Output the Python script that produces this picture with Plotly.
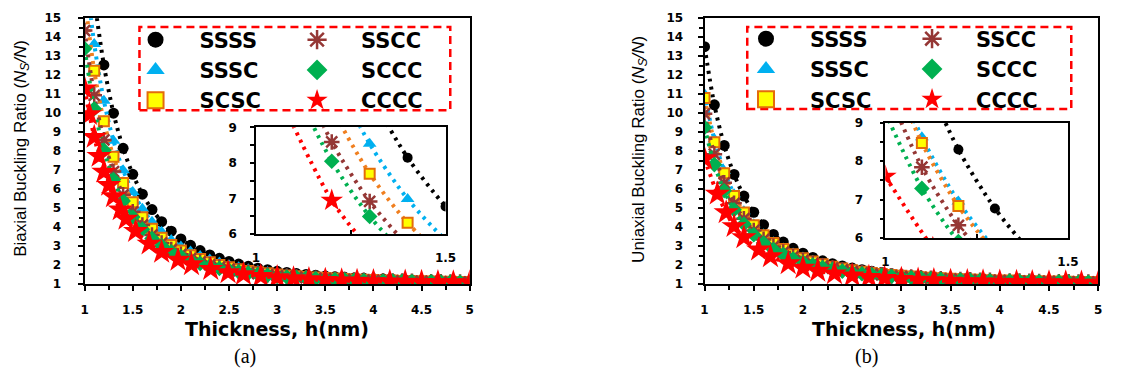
import plotly.graph_objects as go

W, H = 1124, 376

# ---------------- data ----------------
H_GRID = [1.0, 1.1, 1.2, 1.3, 1.4, 1.5, 1.6, 1.7, 1.8, 1.9, 2.0, 2.1, 2.2, 2.3, 2.4, 2.5, 2.6, 2.7, 2.8, 2.9,
          3.0, 3.1, 3.2, 3.3, 3.4, 3.5, 3.6, 3.7, 3.8, 3.9, 4.0, 4.1, 4.2, 4.3, 4.4, 4.5, 4.6, 4.7, 4.8, 4.9, 5.0]

# (a) biaxial
A_SSSS = [21.3, 16.11, 12.54, 10.0, 8.15, 6.78, 5.73, 4.92, 4.28, 3.78, 3.37, 3.04, 2.76, 2.53, 2.35, 2.19, 2.05,
          1.93, 1.83, 1.75, 1.67, 1.61, 1.55, 1.50, 1.46, 1.42, 1.38, 1.35, 1.32, 1.30, 1.28, 1.26, 1.24, 1.22,
          1.21, 1.19, 1.18, 1.17, 1.16, 1.15, 1.14]
A_SSSC = [18.0, 13.65, 10.66, 8.54, 6.99, 5.84, 4.96, 4.28, 3.75, 3.32, 2.98, 2.71, 2.48, 2.29, 2.13, 1.99, 1.88,
          1.78, 1.70, 1.63, 1.56, 1.51, 1.46, 1.42, 1.38, 1.35, 1.32, 1.29, 1.27, 1.25, 1.23, 1.21, 1.20, 1.19,
          1.17, 1.16, 1.15, 1.14, 1.13, 1.12, 1.12]
A_SCSC = [16.1, 12.24, 9.58, 7.70, 6.32, 5.30, 4.52, 3.91, 3.44, 3.06, 2.76, 2.51, 2.31, 2.14, 2.00, 1.88, 1.78,
          1.69, 1.62, 1.56, 1.50, 1.45, 1.41, 1.37, 1.34, 1.31, 1.29, 1.26, 1.24, 1.22, 1.21, 1.19, 1.18, 1.16,
          1.15, 1.14, 1.13, 1.12, 1.12, 1.11, 1.10]
A_SSCC = [14.35, 10.94, 8.59, 6.92, 5.70, 4.80, 4.11, 3.58, 3.16, 2.82, 2.56, 2.34, 2.16, 2.01, 1.89, 1.78, 1.69,
          1.61, 1.55, 1.49, 1.44, 1.40, 1.36, 1.33, 1.30, 1.28, 1.25, 1.23, 1.21, 1.20, 1.18, 1.17, 1.16, 1.15,
          1.14, 1.13, 1.12, 1.11, 1.10, 1.10, 1.09]
A_SCCC = [13.4, 10.23, 8.05, 6.50, 5.37, 4.53, 3.89, 3.39, 3.01, 2.70, 2.45, 2.24, 2.08, 1.94, 1.82, 1.72, 1.64,
          1.57, 1.51, 1.46, 1.41, 1.37, 1.34, 1.31, 1.28, 1.26, 1.23, 1.22, 1.20, 1.18, 1.17, 1.16, 1.15, 1.14,
          1.13, 1.12, 1.11, 1.10, 1.10, 1.09, 1.08]
A_CCCC_H = [1.0, 1.05, 1.1, 1.15, 1.2, 1.25, 1.3, 1.37, 1.43, 1.53, 1.67, 1.8, 1.97, 2.11, 2.31, 2.49, 2.65, 2.83,
            3.0, 3.17, 3.33, 3.5, 3.67, 3.83, 4.0, 4.17, 4.33, 4.5, 4.67, 4.83, 5.0]
A_CCCC = [11.3, 9.94, 8.74, 7.74, 6.91, 6.21, 5.61, 4.92, 4.43, 3.78, 3.12, 2.68, 2.27, 2.03, 1.78, 1.61, 1.51,
          1.41, 1.35, 1.29, 1.25, 1.21, 1.18, 1.16, 1.14, 1.12, 1.11, 1.10, 1.09, 1.08, 1.07]
# (a) inset, CCCC as sampled in the zoomed inset
INSET_A_CCCC_H = [1.0, 1.2, 1.3, 1.4, 1.5]
INSET_A_CCCC = [11.3, 6.95, 5.61, 4.65, 3.96]

# (b) uniaxial
B_SSSS = [13.5, 10.44, 8.30, 6.77, 5.63, 4.78, 4.12, 3.61, 3.21, 2.88, 2.62, 2.40, 2.22, 2.07, 1.95, 1.84, 1.75,
          1.67, 1.60, 1.54, 1.49, 1.44, 1.40, 1.37, 1.34, 1.31, 1.29, 1.26, 1.24, 1.23, 1.21, 1.20, 1.18, 1.17,
          1.16, 1.15, 1.14, 1.13, 1.12, 1.12, 1.11]
B_SSSC = [11.0, 8.62, 6.95, 5.73, 4.83, 4.15, 3.62, 3.20, 2.87, 2.61, 2.39, 2.21, 2.06, 1.93, 1.83, 1.73, 1.66,
          1.59, 1.53, 1.48, 1.44, 1.40, 1.36, 1.33, 1.31, 1.28, 1.26, 1.24, 1.22, 1.21, 1.19, 1.18, 1.17, 1.16,
          1.15, 1.14, 1.13, 1.12, 1.11, 1.11, 1.10]
B_SCSC = [10.8, 8.47, 6.83, 5.64, 4.76, 4.09, 3.57, 3.16, 2.84, 2.57, 2.36, 2.18, 2.04, 1.91, 1.81, 1.72, 1.64,
          1.58, 1.52, 1.47, 1.43, 1.39, 1.36, 1.33, 1.30, 1.28, 1.25, 1.24, 1.22, 1.20, 1.19, 1.18, 1.16, 1.15,
          1.14, 1.13, 1.13, 1.12, 1.11, 1.11, 1.10]
B_SSCC = [9.97, 7.84, 6.33, 5.25, 4.44, 3.82, 3.35, 2.98, 2.68, 2.44, 2.24, 2.08, 1.95, 1.84, 1.74, 1.66, 1.59,
          1.53, 1.48, 1.43, 1.39, 1.36, 1.33, 1.30, 1.27, 1.25, 1.23, 1.22, 1.20, 1.19, 1.17, 1.16, 1.15, 1.14,
          1.13, 1.12, 1.12, 1.11, 1.10, 1.10, 1.09]
B_SCCC = [9.25, 7.29, 5.91, 4.91, 4.16, 3.60, 3.16, 2.82, 2.55, 2.32, 2.14, 2.00, 1.87, 1.77, 1.68, 1.61, 1.54,
          1.49, 1.44, 1.40, 1.36, 1.33, 1.30, 1.27, 1.25, 1.23, 1.21, 1.20, 1.18, 1.17, 1.16, 1.15, 1.14, 1.13,
          1.12, 1.11, 1.11, 1.10, 1.09, 1.09, 1.08]
B_CCCC_H = [1.0, 1.13, 1.22, 1.3, 1.4, 1.55, 1.67, 1.85, 2.0, 2.15, 2.32, 2.5, 2.67, 2.83, 3.0, 3.17, 3.33, 3.5,
            3.67, 3.83, 4.0, 4.17, 4.33, 4.5, 4.67, 4.83, 5.0]
B_CCCC = [7.6, 5.75, 4.77, 4.04, 3.45, 2.81, 2.45, 2.08, 1.85, 1.69, 1.55, 1.44, 1.36, 1.31, 1.26, 1.22, 1.19,
          1.16, 1.14, 1.13, 1.11, 1.10, 1.09, 1.08, 1.07, 1.06, 1.06]

NAMES = ["SSSS", "SSSC", "SCSC", "SSCC", "SCCC", "CCCC"]
PANEL_A = {"SSSS": (H_GRID, A_SSSS), "SSSC": (H_GRID, A_SSSC), "SCSC": (H_GRID, A_SCSC),
           "SSCC": (H_GRID, A_SSCC), "SCCC": (H_GRID, A_SCCC), "CCCC": (A_CCCC_H, A_CCCC)}
INSET_A = dict(PANEL_A, CCCC=(INSET_A_CCCC_H, INSET_A_CCCC))
PANEL_B = {"SSSS": (H_GRID, B_SSSS), "SSSC": (H_GRID, B_SSSC), "SCSC": (H_GRID, B_SCSC),
           "SSCC": (H_GRID, B_SSCC), "SCCC": (H_GRID, B_SCCC), "CCCC": (B_CCCC_H, B_CCCC)}

# ---------------- styles ----------------
STY = {
    "SSSS": dict(symbol="circle", fill="#000000", edge="#000000", ew=0, dot="#000000", size=11, isize=10),
    "SSSC": dict(symbol="triangle-up", fill="#00B0F0", edge="#00B0F0", ew=0, dot="#00B0F0", size=12, isize=12),
    "SCSC": dict(symbol="square", fill="#FFFF00", edge="#E46C0A", ew=2, dot="#F07F1F", size=10, isize=10),
    "SSCC": dict(symbol="asterisk-open", fill="#953735", edge="#953735", ew=2.5, dot="#953735", size=13, isize=13),
    "SCCC": dict(symbol="diamond", fill="#00B050", edge="#00B050", ew=0, dot="#00B050", size=12, isize=12),
    "CCCC": dict(symbol="star", fill="#FF0000", edge="#FF0000", ew=0, dot="#FF0000", size=19, isize=17),
}

def px(x):
    return x / W

def py(y):
    return 1 - y / H

fig = go.Figure()

def add_series(panel, xa, ya, inset=False):
    for nm in NAMES:
        s = STY[nm]
        xs, ys = panel[nm]
        fig.add_trace(go.Scatter(
            x=xs, y=ys, mode="lines+markers", name=nm, showlegend=False,
            line=dict(color=s["dot"], width=4, dash="3px,5px", shape="spline", smoothing=0.8),
            marker=dict(symbol=s["symbol"], color=s["fill"], size=s["isize"] if inset else s["size"],
                        line=dict(color=s["edge"], width=s["ew"])),
            xaxis=xa, yaxis=ya, hoverinfo="skip"))

add_series(PANEL_A, "x", "y")
add_series(PANEL_B, "x2", "y2")
add_series(INSET_A, "x3", "y3", inset=True)
add_series(PANEL_B, "x4", "y4", inset=True)

# legend-only entries (no data)
for (l1, l2), xa, ya in ((("legend", "legend2"), "x", "y"), (("legend3", "legend4"), "x2", "y2")):
    for i, nm in enumerate(NAMES):
        s = STY[nm]
        fig.add_trace(go.Scatter(
            x=[None], y=[None], mode="markers", name=nm, showlegend=True,
            legend=l1 if i < 3 else l2,
            marker=dict(symbol=s["symbol"], color=s["fill"], size=16,
                        line=dict(color=s["edge"], width=s["ew"])),
            xaxis=xa, yaxis=ya))

TICKFONT = dict(family="DejaVu Sans", size=12, color="black", weight="bold")

def main_x(domain, anchor):
    return dict(domain=domain, anchor=anchor, range=[1, 5], tick0=1, dtick=0.5,
                showline=True, linecolor="black", linewidth=2, mirror=True,
                showgrid=False, zeroline=False, ticks="outside", ticklen=5, tickwidth=2,
                tickcolor="black", tickfont=TICKFONT, ticklabelstandoff=9,
                minor=dict(dtick=0.25, ticks="outside", ticklen=4, tickwidth=2, tickcolor="black"))

def main_y(domain, anchor, standoff):
    return dict(domain=domain, anchor=anchor, range=[1, 15], tick0=1, dtick=1,
                showline=True, linecolor="black", linewidth=2, mirror=True,
                showgrid=False, zeroline=False, ticks="outside", ticklen=5, tickwidth=2,
                tickcolor="black", tickfont=TICKFONT, ticklabelstandoff=standoff,
                minor=dict(dtick=0.5, ticks="outside", ticklen=4, tickwidth=2, tickcolor="black"))

def inset_x(domain, anchor):
    return dict(domain=domain, anchor=anchor, range=[1, 1.5], tick0=1, dtick=0.5,
                showline=True, linecolor="black", linewidth=1.5, mirror=True,
                showgrid=False, zeroline=False, ticks="inside", ticklen=4, tickwidth=1.5,
                tickcolor="black", tickfont=TICKFONT, ticklabelstandoff=12,
                minor=dict(dtick=0.25, ticks="inside", ticklen=4, tickwidth=1.5, tickcolor="black"))

def inset_y(domain, anchor, standoff):
    return dict(domain=domain, anchor=anchor, range=[6, 9], tick0=6, dtick=1,
                showline=True, linecolor="black", linewidth=1.5, mirror=True,
                showgrid=False, zeroline=False, ticks="outside", ticklen=4, tickwidth=1.5,
                tickcolor="black", tickfont=TICKFONT, ticklabelstandoff=standoff,
                minor=dict(dtick=0.5, ticks="outside", ticklen=4, tickwidth=1.5, tickcolor="black"))

YDOM = [py(287.7), py(11.7)]

LEGFONT = dict(family="DejaVu Sans", size=21, color="black", weight="bold")

def leg(x, y):
    return dict(x=px(x), y=py(y), xanchor="left", yanchor="top", bgcolor="rgba(0,0,0,0)",
                borderwidth=0, itemwidth=78, font=LEGFONT, itemsizing="trace",
                tracegroupgap=0, itemclick=False, itemdoubleclick=False)

ANN_TITLE_Y = dict(family="Liberation Sans", size=17, color="black")
ANN_TITLE_X = dict(family="DejaVu Sans", size=19, color="black", weight="bold")
CAPFONT = dict(family="Liberation Serif", size=20, color="black")

annotations = [
    dict(text="Biaxial Buckling Ratio (<i>N<sub>S</sub>/N</i>)", x=px(17.5), y=py(147), textangle=-90,
         font=ANN_TITLE_Y),
    dict(text="Uniaxial Buckling Ratio (<i>N<sub>S</sub>/N</i>)", x=px(645), y=py(148), textangle=-90,
         font=ANN_TITLE_Y),
    dict(text="Thickness, h(nm)", x=px(277), y=py(334), font=ANN_TITLE_X),
    dict(text="Thickness, h(nm)", x=px(912), y=py(334), font=ANN_TITLE_X),
    dict(text="(a)", x=px(244), y=py(363), font=CAPFONT),
    dict(text="(b)", x=px(874), y=py(363), font=CAPFONT),
]
for a in annotations:
    a.update(xref="paper", yref="paper", showarrow=False, xanchor="center", yanchor="middle")

shapes = [
    dict(type="rect", xref="paper", yref="paper", x0=px(137.3), x1=px(452.3), y0=py(107.3), y1=py(20.7),
         line=dict(color="#FF0000", width=2.5, dash="8px,5px")),
    dict(type="rect", xref="paper", yref="paper", x0=px(753.3), x1=px(1081.7), y0=py(106), y1=py(20.7),
         line=dict(color="#FF0000", width=2.5, dash="8px,5px")),
]

fig.update_layout(
    width=W, height=H, margin=dict(l=0, r=0, t=0, b=0),
    paper_bgcolor="white", plot_bgcolor="white",
    font=dict(family="Liberation Sans", color="black"),
    xaxis=main_x([px(81.7), px(472)], "y"),
    yaxis=main_y(YDOM, "x", 14),
    xaxis2=main_x([px(710), px(1109)], "y2"),
    yaxis2=main_y(YDOM, "x2", 12),
    xaxis3=inset_x([px(255.3), px(447.5)], "y3"),
    yaxis3=inset_y([py(236), py(125)], "x3", 11),
    xaxis4=inset_x([px(893.3), px(1078.3)], "y4"),
    yaxis4=inset_y([py(240), py(120)], "x4", 14),
    legend=leg(109, 13),
    legend2=leg(272.7, 13),
    legend3=leg(727.7, 12),
    legend4=leg(896, 12),
    annotations=annotations,
    shapes=shapes,
)

fig.write_html("out.html")
